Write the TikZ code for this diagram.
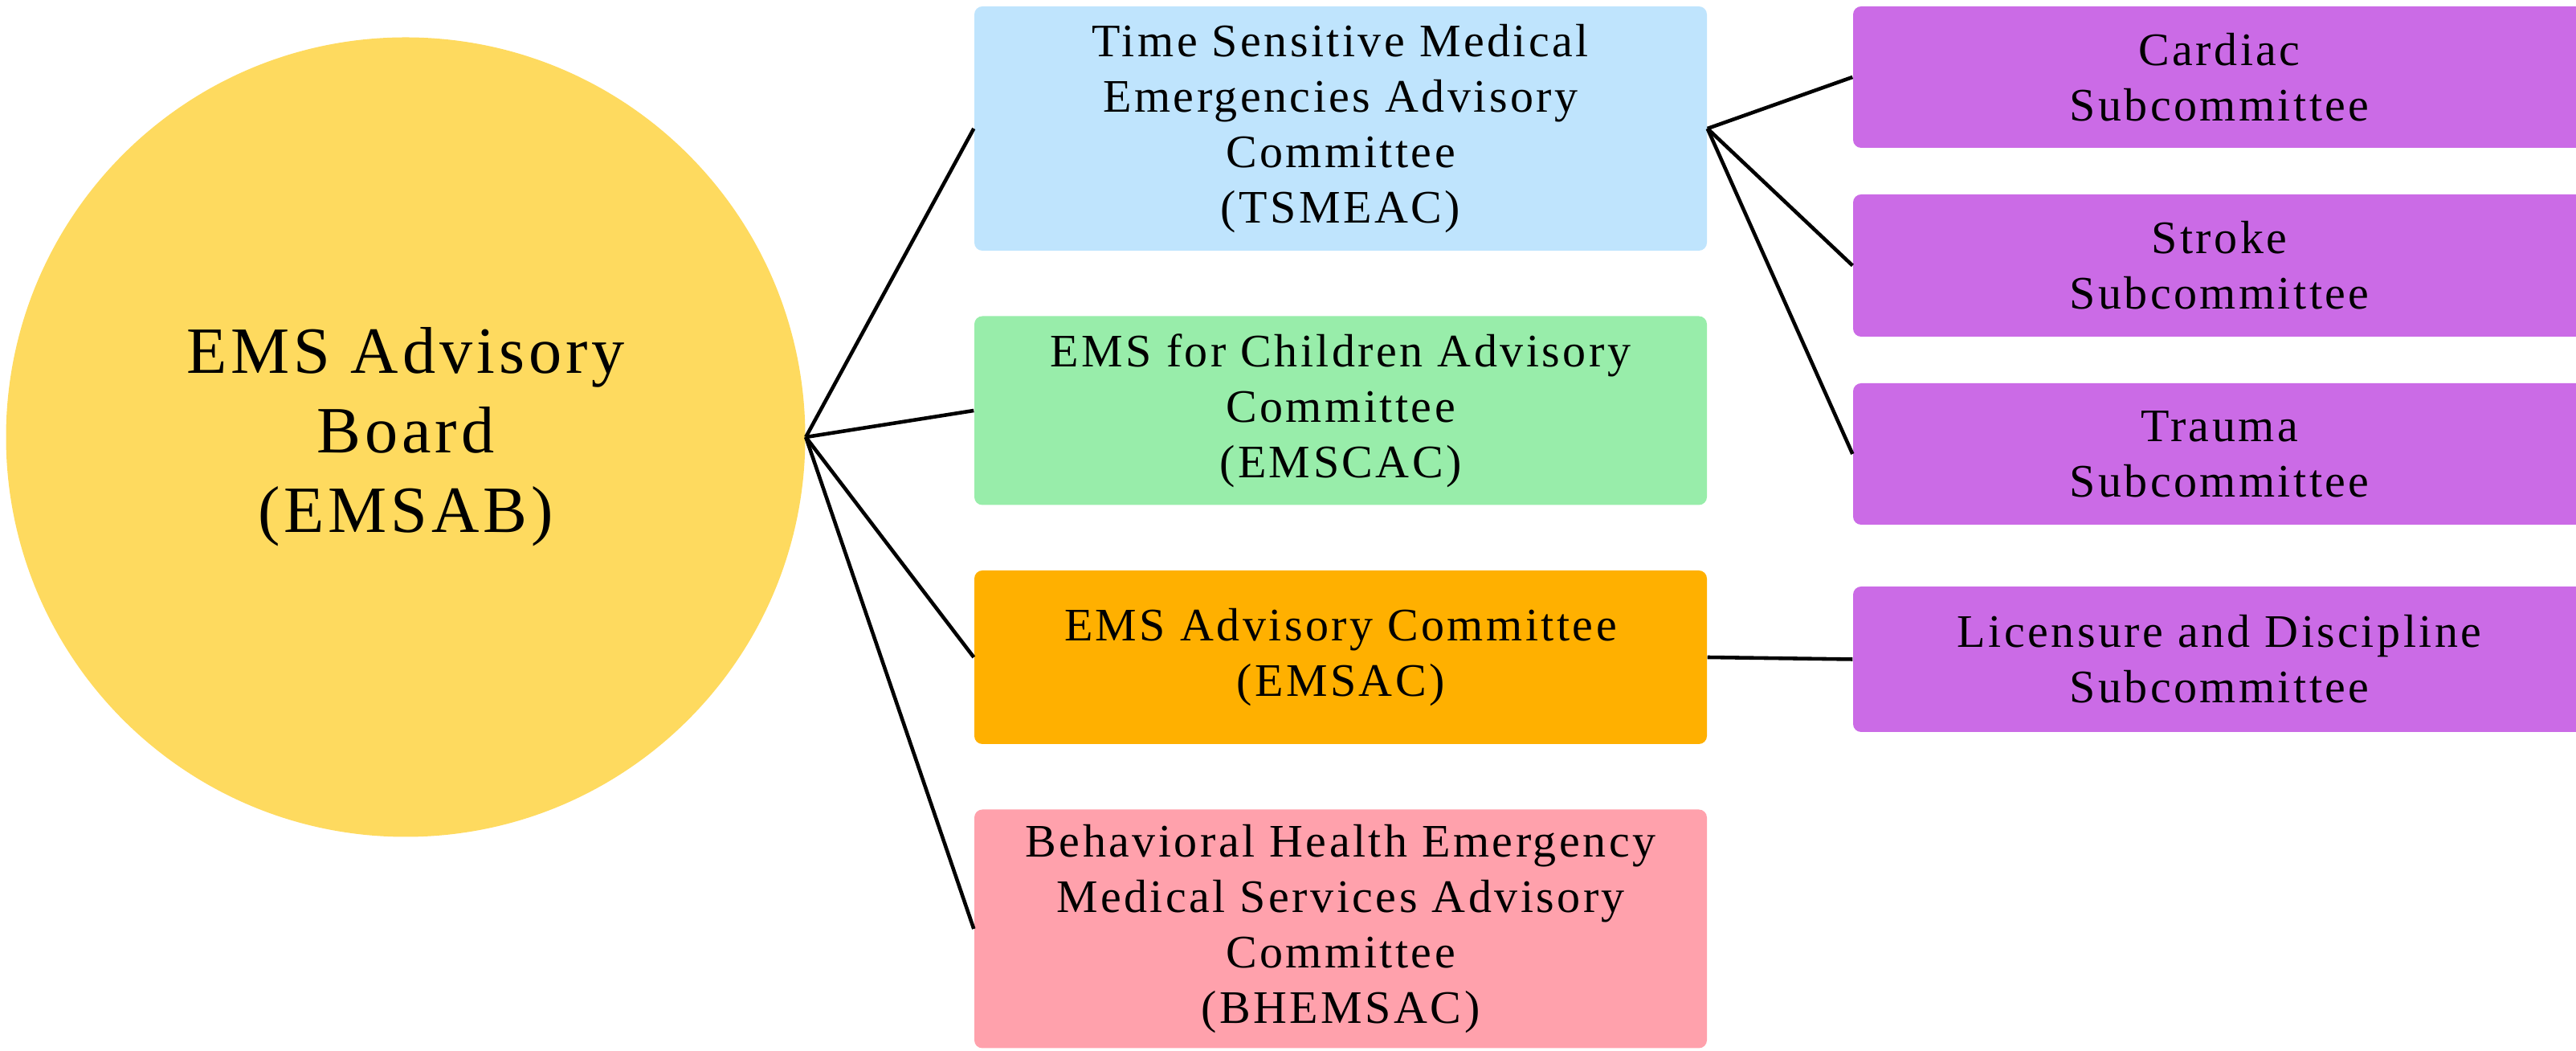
\documentclass[tikz,border=0pt]{standalone}
\usepackage{fontspec}
\setmainfont{Liberation Serif}[LetterSpace=6]
\usepackage{xcolor}
\usepackage{tikz}
\usetikzlibrary{positioning}

\definecolor{boardyellow}{HTML}{FEDA5F}
\definecolor{tsblue}{HTML}{BFE4FD}
\definecolor{kidsgreen}{HTML}{98EDAA}
\definecolor{emsorange}{HTML}{FFB000}
\definecolor{bhpink}{HTML}{FFA1AC}
\definecolor{subpurple}{HTML}{CB6BE6}

\begin{document}
\begin{tikzpicture}[
        box/.style = {rounded corners=0.1cm, minimum width=9.12cm, align=center, inner sep=0pt,
                      font=\fontsize{16.5}{19.6}\selectfont},
        subbox/.style = {box, fill=subpurple},
        link/.style = {line width=1.3pt}
    ]

    \clip (0,0) rectangle (32.07,13.08);

    \node[circle, fill=boardyellow, minimum size=9.95cm, inner sep=0pt, align=center,
          font=\fontsize{23.4}{28.2}\selectfont] (board) at (5.05,7.64) {EMS Advisory\\Board\\(EMSAB)};

    % Advisory committees
    \node[box, fill=tsblue, minimum height=3.04cm] (tsmeac) at (16.69,11.48)
        {Time Sensitive Medical\\Emergencies Advisory\\Committee\\(TSMEAC)};
    \node[box, fill=kidsgreen, minimum height=2.35cm] (emscac) at (16.69,7.97)
        {EMS for Children Advisory\\Committee\\(EMSCAC)};
    \node[box, fill=emsorange, minimum height=2.16cm] (emsac) at (16.69,4.90)
        {EMS Advisory Committee\\(EMSAC)};
    \node[box, fill=bhpink, minimum height=2.97cm] (bhemsac) at (16.69,1.52)
        {Behavioral Health Emergency\\Medical Services Advisory\\Committee\\(BHEMSAC)};

    % Subcommittees
    \node[subbox, minimum height=1.76cm] (cardiac) at (27.63,12.12) {Cardiac\\Subcommittee};
    \node[subbox, minimum height=1.77cm] (stroke) at (27.63,9.775) {Stroke\\Subcommittee};
    \node[subbox, minimum height=1.76cm] (trauma) at (27.63,7.43) {Trauma\\Subcommittee};
    \node[subbox, minimum height=1.81cm] (licensure) at (27.63,4.875) {Licensure and Discipline\\Subcommittee};

    % Lines
    \draw[link] (board.east) -- (tsmeac.west);
    \draw[link] (board.east) -- (emscac.west);
    \draw[link] (board.east) -- (emsac.west);
    \draw[link] (board.east) -- (bhemsac.west);
    \draw[link] (tsmeac.east) -- (cardiac.west);
    \draw[link] (tsmeac.east) -- (stroke.west);
    \draw[link] (tsmeac.east) -- (trauma.west);
    \draw[link] (emsac.east) -- (licensure.west);

\end{tikzpicture}
\end{document}
